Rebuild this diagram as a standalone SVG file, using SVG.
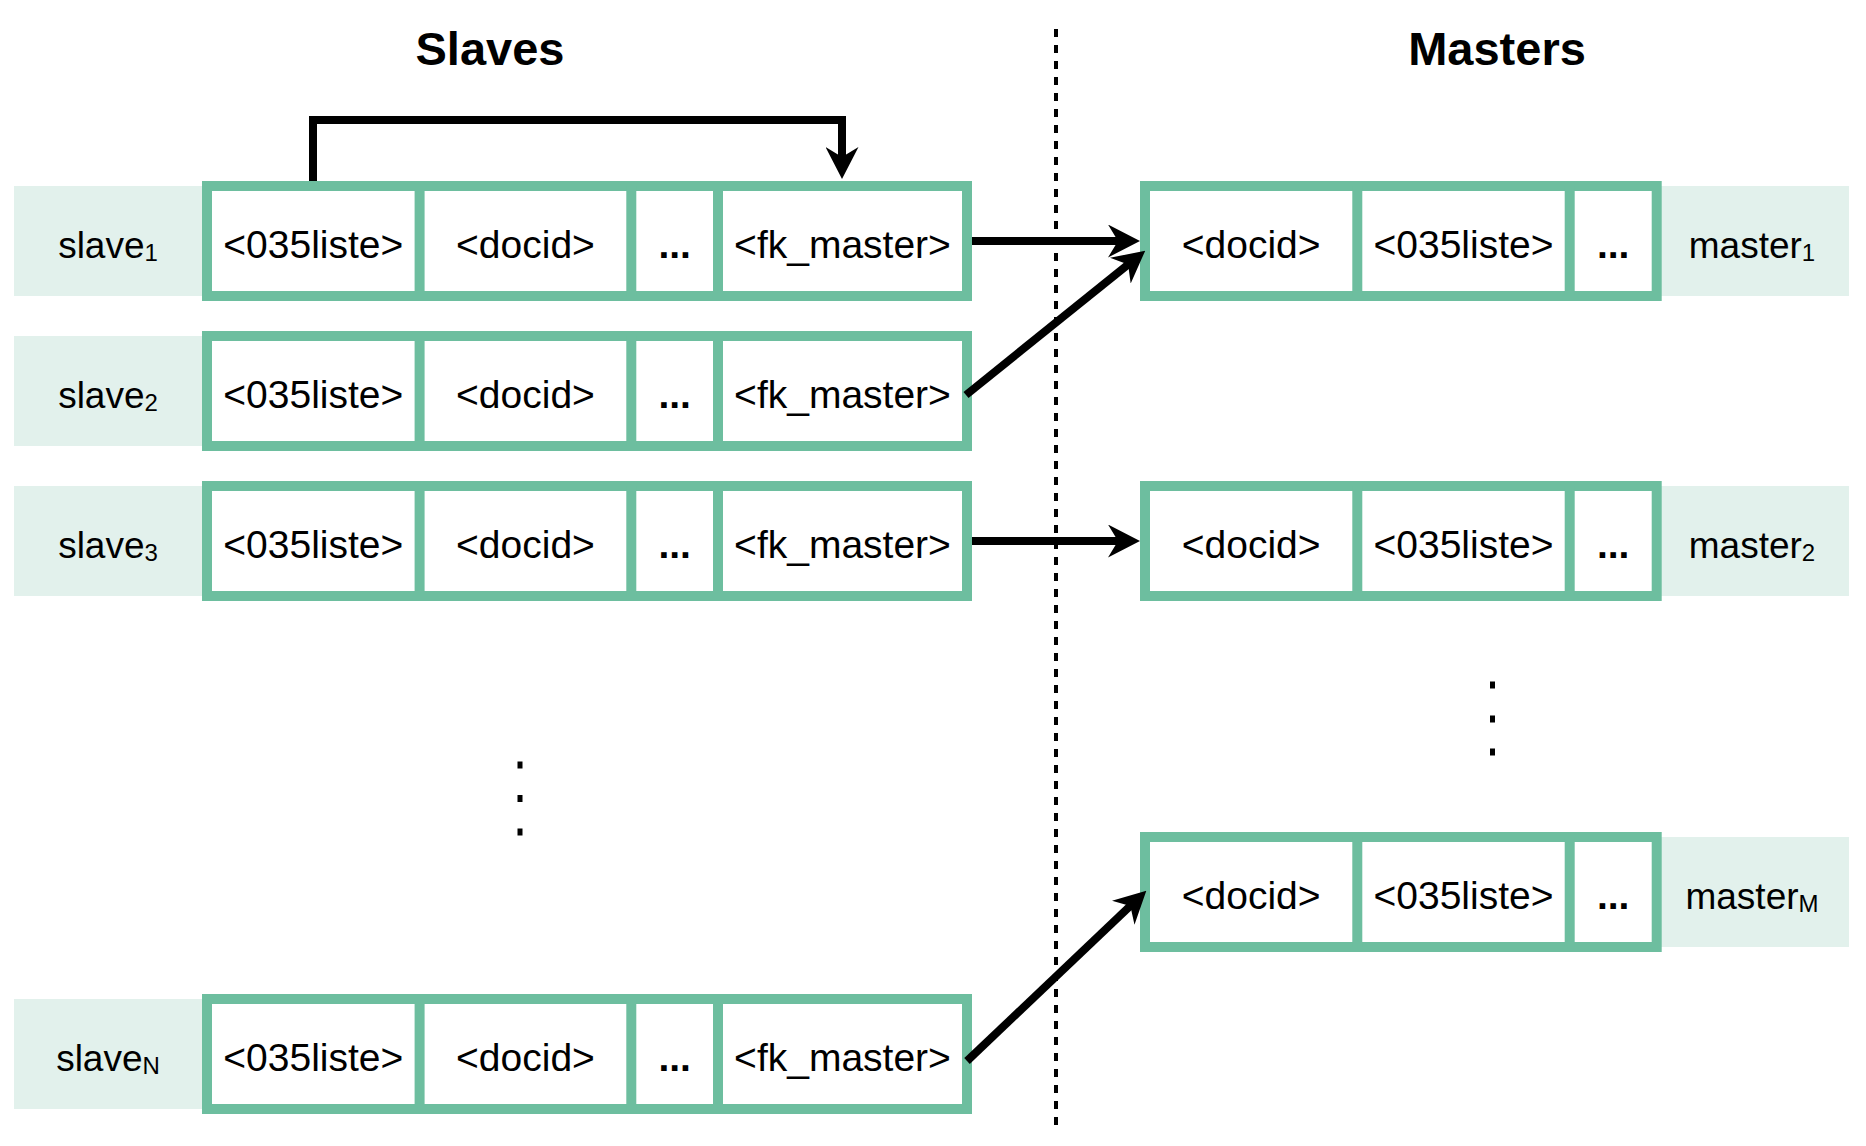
<svg xmlns="http://www.w3.org/2000/svg" width="1866" height="1146" viewBox="0 0 1866 1146">
<style>
.lbl{fill:#e2f1ec}
.box{fill:#fff;stroke:#6dbe9f;stroke-width:10}
.dv{stroke:#6dbe9f;stroke-width:10}
.t{font-family:"Liberation Sans",Arial,Helvetica,sans-serif;font-size:39px;text-anchor:middle;fill:#000}
.l{font-size:37px}
.sub{font-size:24px}
.el{font-weight:bold}
.title{font-weight:bold;font-size:47px}
.edge{stroke:#000;stroke-width:8;fill:none;stroke-linejoin:miter}
.dot{fill:#000}
</style>
<defs>
<marker id="ah" markerUnits="userSpaceOnUse" markerWidth="32" markerHeight="33" viewBox="0 0 32 33" refX="11" refY="16.5" orient="auto">
<path d="M32,16.5 L0,0 L10,16.5 L0,33 Z" fill="#000"/>
</marker>
</defs>
<rect width="1866" height="1146" fill="#fff"/>

<text class="t title" x="490" y="65">Slaves</text>
<text class="t title" x="1497" y="65">Masters</text>

<line x1="1056" y1="29" x2="1056" y2="1125" stroke="#000" stroke-width="4" stroke-dasharray="8 8"/>

<g id="slave1">
<rect class="lbl" x="14" y="186" width="190" height="110"/>
<rect class="box" x="207" y="186" width="760" height="110"/>
<line class="dv" x1="419.6" y1="186" x2="419.6" y2="296"/>
<line class="dv" x1="631.3" y1="186" x2="631.3" y2="296"/>
<line class="dv" x1="718" y1="186" x2="718" y2="296"/>
<text class="t l" x="108" y="258">slave<tspan class="sub" dy="3">1</tspan></text>
<text class="t" x="313.3" y="258">&lt;035liste&gt;</text>
<text class="t" x="525.5" y="258">&lt;docid&gt;</text>
<text class="t el" x="674.7" y="258">...</text>
<text class="t" x="842.5" y="258">&lt;fk_master&gt;</text>
</g>

<g id="slave2">
<rect class="lbl" x="14" y="336" width="190" height="110"/>
<rect class="box" x="207" y="336" width="760" height="110"/>
<line class="dv" x1="419.6" y1="336" x2="419.6" y2="446"/>
<line class="dv" x1="631.3" y1="336" x2="631.3" y2="446"/>
<line class="dv" x1="718" y1="336" x2="718" y2="446"/>
<text class="t l" x="108" y="408">slave<tspan class="sub" dy="3">2</tspan></text>
<text class="t" x="313.3" y="408">&lt;035liste&gt;</text>
<text class="t" x="525.5" y="408">&lt;docid&gt;</text>
<text class="t el" x="674.7" y="408">...</text>
<text class="t" x="842.5" y="408">&lt;fk_master&gt;</text>
</g>

<g id="slave3">
<rect class="lbl" x="14" y="486" width="190" height="110"/>
<rect class="box" x="207" y="486" width="760" height="110"/>
<line class="dv" x1="419.6" y1="486" x2="419.6" y2="596"/>
<line class="dv" x1="631.3" y1="486" x2="631.3" y2="596"/>
<line class="dv" x1="718" y1="486" x2="718" y2="596"/>
<text class="t l" x="108" y="558">slave<tspan class="sub" dy="3">3</tspan></text>
<text class="t" x="313.3" y="558">&lt;035liste&gt;</text>
<text class="t" x="525.5" y="558">&lt;docid&gt;</text>
<text class="t el" x="674.7" y="558">...</text>
<text class="t" x="842.5" y="558">&lt;fk_master&gt;</text>
</g>

<g id="slaveN">
<rect class="lbl" x="14" y="999" width="190" height="110"/>
<rect class="box" x="207" y="999" width="760" height="110"/>
<line class="dv" x1="419.6" y1="999" x2="419.6" y2="1109"/>
<line class="dv" x1="631.3" y1="999" x2="631.3" y2="1109"/>
<line class="dv" x1="718" y1="999" x2="718" y2="1109"/>
<text class="t l" x="108" y="1071">slave<tspan class="sub" dy="3">N</tspan></text>
<text class="t" x="313.3" y="1071">&lt;035liste&gt;</text>
<text class="t" x="525.5" y="1071">&lt;docid&gt;</text>
<text class="t el" x="674.7" y="1071">...</text>
<text class="t" x="842.5" y="1071">&lt;fk_master&gt;</text>
</g>

<g id="slave-ellipsis">
<rect class="dot" x="517.5" y="761.5" width="5" height="7"/>
<rect class="dot" x="517.5" y="795" width="5" height="7"/>
<rect class="dot" x="517.5" y="828.5" width="5" height="7"/>
</g>

<g id="master1">
<rect class="lbl" x="1655" y="186" width="194" height="110"/>
<rect class="box" x="1145" y="186" width="511.7" height="110"/>
<line class="dv" x1="1357.3" y1="186" x2="1357.3" y2="296"/>
<line class="dv" x1="1569.7" y1="186" x2="1569.7" y2="296"/>
<text class="t" x="1251.2" y="258">&lt;docid&gt;</text>
<text class="t" x="1463.5" y="258">&lt;035liste&gt;</text>
<text class="t el" x="1613.2" y="258">...</text>
<text class="t l" x="1752" y="258">master<tspan class="sub" dy="3">1</tspan></text>
</g>

<g id="master2">
<rect class="lbl" x="1655" y="486" width="194" height="110"/>
<rect class="box" x="1145" y="486" width="511.7" height="110"/>
<line class="dv" x1="1357.3" y1="486" x2="1357.3" y2="596"/>
<line class="dv" x1="1569.7" y1="486" x2="1569.7" y2="596"/>
<text class="t" x="1251.2" y="558">&lt;docid&gt;</text>
<text class="t" x="1463.5" y="558">&lt;035liste&gt;</text>
<text class="t el" x="1613.2" y="558">...</text>
<text class="t l" x="1752" y="558">master<tspan class="sub" dy="3">2</tspan></text>
</g>

<g id="masterM">
<rect class="lbl" x="1655" y="837" width="194" height="110"/>
<rect class="box" x="1145" y="837" width="511.7" height="110"/>
<line class="dv" x1="1357.3" y1="837" x2="1357.3" y2="947"/>
<line class="dv" x1="1569.7" y1="837" x2="1569.7" y2="947"/>
<text class="t" x="1251.2" y="909">&lt;docid&gt;</text>
<text class="t" x="1463.5" y="909">&lt;035liste&gt;</text>
<text class="t el" x="1613.2" y="909">...</text>
<text class="t l" x="1752" y="909">master<tspan class="sub" dy="3">M</tspan></text>
</g>

<g id="master-ellipsis">
<rect class="dot" x="1490" y="681.5" width="5" height="7"/>
<rect class="dot" x="1490" y="715.5" width="5" height="7"/>
<rect class="dot" x="1490" y="748.5" width="5" height="7"/>
</g>

<g id="connectors">
<path class="edge" d="M313,181 V120 H842 V158" marker-end="url(#ah)"/>
<path class="edge" d="M972,241 H1119" marker-end="url(#ah)"/>
<path class="edge" d="M966,395 L1128.9,263.8" marker-end="url(#ah)"/>
<path class="edge" d="M972,541 H1119" marker-end="url(#ah)"/>
<path class="edge" d="M967,1061 L1131.1,905.2" marker-end="url(#ah)"/>
</g>
</svg>
